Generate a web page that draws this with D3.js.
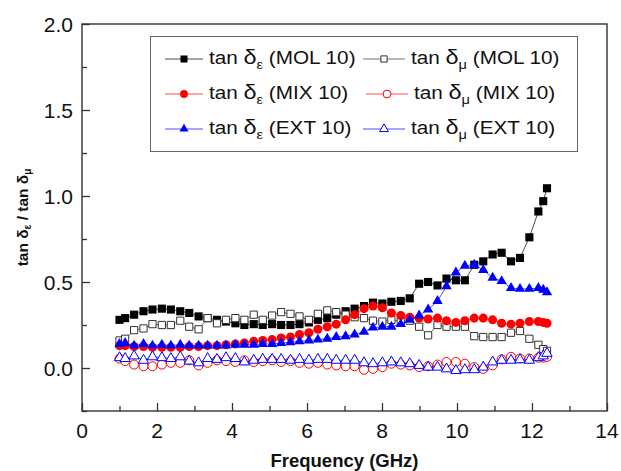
<!DOCTYPE html>
<html>
<head>
<meta charset="utf-8">
<script src="https://cdn.jsdelivr.net/npm/d3@7"></script>
<style>
  body { margin: 0; background: #fff; }
  svg text { font-family: "Liberation Sans", Arial, sans-serif; }
</style>
</head>
<body>
<div id="chart"></div>
<script>

var svgWidth = 621;
var svgHeight = 471;

var margin = { top: 24, right: 14, bottom: 60, left: 82 };

var width = svgWidth - margin.left - margin.right;
var height = svgHeight - margin.top - margin.bottom;

// frequency points (GHz), shared by all six series
var freq = [1.00, 1.15, 1.39, 1.64, 1.88, 2.13, 2.37, 2.62, 2.86, 3.11, 3.35, 3.60, 3.84, 4.09, 4.33,
  4.58, 4.82, 5.07, 5.31, 5.56, 5.80, 6.05, 6.29, 6.54, 6.78, 7.03, 7.27, 7.52, 7.76, 8.01, 8.25, 8.50,
  8.74, 8.99, 9.23, 9.48, 9.72, 9.97, 10.21, 10.46, 10.70, 10.95, 11.19, 11.44, 11.68, 11.93, 12.17,
  12.30, 12.40];

var molEps = [0.28, 0.29, 0.31, 0.33, 0.34, 0.345, 0.34, 0.33, 0.32, 0.30, 0.29, 0.28, 0.27, 0.26, 0.25,
  0.255, 0.25, 0.255, 0.25, 0.25, 0.255, 0.265, 0.28, 0.29, 0.31, 0.33, 0.345, 0.36, 0.38, 0.375, 0.385, 0.39,
  0.405, 0.49, 0.50, 0.48, 0.52, 0.51, 0.51, 0.60, 0.62, 0.66, 0.67, 0.62, 0.64, 0.76, 0.91,
  0.97, 1.045];

var molMu = [0.16, 0.17, 0.22, 0.23, 0.255, 0.25, 0.25, 0.275, 0.24, 0.225, 0.29, 0.26, 0.28, 0.29, 0.28,
  0.31, 0.28, 0.305, 0.325, 0.315, 0.30, 0.28, 0.315, 0.335, 0.325, 0.31, 0.295, 0.29, 0.275, 0.27, 0.28, 0.27,
  0.275, 0.24, 0.19, 0.25, 0.24, 0.24, 0.24, 0.185, 0.18, 0.18, 0.18, 0.205, 0.215, 0.17, 0.135,
  0.11, 0.10];

var mixEps = [0.13, 0.13, 0.125, 0.125, 0.12, 0.12, 0.12, 0.12, 0.125, 0.125, 0.13, 0.13, 0.135, 0.14, 0.145,
  0.155, 0.16, 0.165, 0.175, 0.18, 0.195, 0.205, 0.225, 0.24, 0.255, 0.28, 0.31, 0.345, 0.36, 0.35, 0.32, 0.305,
  0.295, 0.29, 0.285, 0.29, 0.275, 0.265, 0.275, 0.29, 0.29, 0.28, 0.26, 0.255, 0.26, 0.27, 0.27,
  0.265, 0.26];

var mixMu = [0.055, 0.04, 0.02, 0.01, 0.01, 0.02, 0.03, 0.03, 0.045, 0.015, 0.03, 0.045, 0.04, 0.035, 0.045,
  0.035, 0.04, 0.045, 0.035, 0.04, 0.03, 0.025, 0.03, 0.02, 0.015, 0.01, 0.01, -0.01, -0.005, 0.005, 0.025, 0.02,
  0.015, 0.005, 0.01, 0.02, 0.035, 0.035, 0.025, 0.005, -0.005, 0.015, 0.05, 0.065, 0.055, 0.055, 0.06,
  0.06, 0.065];

var extEps = [0.14, 0.145, 0.13, 0.14, 0.13, 0.135, 0.13, 0.135, 0.13, 0.13, 0.13, 0.13, 0.13, 0.135, 0.135,
  0.135, 0.14, 0.14, 0.145, 0.15, 0.155, 0.16, 0.165, 0.17, 0.18, 0.185, 0.195, 0.21, 0.235, 0.24, 0.24, 0.255,
  0.28, 0.305, 0.34, 0.39, 0.475, 0.555, 0.595, 0.60, 0.57, 0.525, 0.505, 0.465, 0.46, 0.46, 0.465,
  0.455, 0.44];

var extMu = [0.06, 0.055, 0.07, 0.045, 0.065, 0.06, 0.055, 0.065, 0.04, 0.03, 0.055, 0.05, 0.06, 0.055, 0.035,
  0.045, 0.05, 0.05, 0.05, 0.045, 0.05, 0.045, 0.05, 0.05, 0.045, 0.045, 0.045, 0.03, 0.025, 0.03, 0.035, 0.03,
  0.025, 0.015, 0.005, 0.005, -0.005, -0.015, -0.01, -0.01, 0.005, 0.035, 0.045, 0.045, 0.048, 0.045, 0.06,
  0.07, 0.085];

var xTicks = [0, 2, 4, 6, 8, 10, 12, 14];
var yTicks = [0.0, 0.5, 1.0, 1.5, 2.0];

// series: name parts, values, style
var series = [
  { sub: "\u03b5", label: "(MOL 10)", values: molEps, shape: d3.symbolSquare, color: "#000", filled: true },
  { sub: "\u03bc", label: "(MOL 10)", values: molMu, shape: d3.symbolSquare, color: "#333", filled: false },
  { sub: "\u03b5", label: "(MIX 10)", values: mixEps, shape: d3.symbolCircle, color: "#ff0000", filled: true },
  { sub: "\u03bc", label: "(MIX 10)", values: mixMu, shape: d3.symbolCircle, color: "#ff0000", filled: false },
  { sub: "\u03b5", label: "(EXT 10)", values: extEps, shape: d3.symbolTriangle, color: "#0000ff", filled: true },
  { sub: "\u03bc", label: "(EXT 10)", values: extMu, shape: d3.symbolTriangle, color: "#0000ff", filled: false }
];

var svg = d3.select("#chart")
  .append("svg")
  .attr("width", svgWidth)
  .attr("height", svgHeight);

var chartGroup = svg.append("g")
  .attr("transform", `translate(${margin.left}, ${margin.top})`);

var xLinearScale = d3.scaleLinear().domain([0, 14]).range([0, width]);
var yLinearScale = d3.scaleLinear().domain([-0.25, 2.0]).range([height, 0]);

// inward ticks, minor ones between
var bottomAxis = d3.axisBottom(xLinearScale)
  .tickValues(d3.range(0, 14.01, 1))
  .tickSizeInner(0).tickSizeOuter(0).tickFormat("");
var xAxis = chartGroup.append("g")
  .attr("transform", `translate(0, ${height})`)
  .call(bottomAxis);
xAxis.selectAll(".tick line")
  .attr("y2", d => (d % 2 === 0 ? -8 : -5))
  .attr("stroke", "#333")
  .attr("stroke-width", 1.3);
xAxis.selectAll(".domain").remove();

var leftAxis = d3.axisLeft(yLinearScale)
  .tickValues(d3.range(-0.25, 2.01, 0.25))
  .tickSizeInner(0).tickSizeOuter(0).tickFormat("");
var yAxis = chartGroup.append("g").call(leftAxis);
yAxis.selectAll(".tick line")
  .attr("x2", d => (Math.abs(d * 2 - Math.round(d * 2)) < 1e-6 ? 8 : 5))
  .attr("stroke", "#333")
  .attr("stroke-width", 1.3);
yAxis.selectAll(".domain").remove();

// tick labels
chartGroup.selectAll(".xlab")
  .data(xTicks)
  .enter()
  .append("text")
  .attr("x", d => xLinearScale(d))
  .attr("y", height + 27)
  .attr("text-anchor", "middle")
  .attr("font-size", 21)
  .attr("fill", "#111")
  .text(d => d);

chartGroup.selectAll(".ylab")
  .data(yTicks)
  .enter()
  .append("text")
  .attr("x", -9)
  .attr("y", d => yLinearScale(d) + 7.5)
  .attr("text-anchor", "end")
  .attr("font-size", 21)
  .attr("fill", "#111")
  .text(d => d.toFixed(1));

// frame
chartGroup.append("rect")
  .attr("width", width)
  .attr("height", height)
  .attr("fill", "none")
  .attr("stroke", "#333")
  .attr("stroke-width", 1.4);

// axis titles
chartGroup.append("text")
  .attr("x", width / 2)
  .attr("y", height + 56)
  .attr("text-anchor", "middle")
  .attr("font-size", 18.5)
  .attr("font-weight", "bold")
  .attr("fill", "#111")
  .text("Frequency (GHz)");

var yTitle = svg.append("text")
  .attr("transform", `translate(28, ${margin.top + height / 2}) rotate(-90)`)
  .attr("text-anchor", "middle")
  .attr("font-size", 15.5)
  .attr("font-weight", "bold")
  .attr("fill", "#111");
yTitle.append("tspan").text("tan \u03b4");
yTitle.append("tspan").attr("font-size", 10).attr("dy", 3).text("\u03b5");
yTitle.append("tspan").attr("dy", -3).text(" / tan \u03b4");
yTitle.append("tspan").attr("font-size", 10).attr("dy", 3).text("\u03bc");

// data: line + symbols
var line = d3.line()
  .x((d, i) => xLinearScale(freq[i]))
  .y(d => yLinearScale(d));

function symbolSize(s) {
  if (s.shape === d3.symbolSquare) return s.filled ? 66 : 52;
  if (s.shape === d3.symbolCircle) return 64;
  return 46;
}

series.forEach(function(s) {
  var g = chartGroup.append("g");
  g.append("path")
    .attr("d", line(s.values))
    .attr("fill", "none")
    .attr("stroke", s.color)
    .attr("stroke-width", 0.7);
  g.selectAll("path.pt")
    .data(s.values)
    .enter()
    .append("path")
    .attr("class", "pt")
    .attr("transform", (d, i) => `translate(${xLinearScale(freq[i])}, ${yLinearScale(d)})`)
    .attr("d", d3.symbol().type(s.shape).size(symbolSize(s)))
    .attr("fill", s.filled ? s.color : "#fff")
    .attr("stroke", s.filled ? "none" : s.color)
    .attr("stroke-width", 1);
});

// legend
var legend = svg.append("g");
legend.append("rect")
  .attr("x", 150.5).attr("y", 36.5)
  .attr("width", 427).attr("height", 115)
  .attr("fill", "#fff")
  .attr("stroke", "#666")
  .attr("stroke-width", 1);

var rowY = [59, 94, 129];
var colX = [[165, 203, 209], [363, 405, 411]];

series.forEach(function(s, i) {
  var row = Math.floor(i / 2);
  var col = i % 2;
  var cx = colX[col];
  var shift = (row === 1 && col === 1) ? 3 : 0;
  var y = rowY[row];
  legend.append("line")
    .attr("x1", cx[0] + shift).attr("x2", cx[1] + shift)
    .attr("y1", y).attr("y2", y)
    .attr("stroke", s.color)
    .attr("stroke-opacity", 0.7)
    .attr("stroke-width", 1);
  legend.append("path")
    .attr("transform", `translate(${(cx[0] + cx[1]) / 2 + shift}, ${y})`)
    .attr("d", d3.symbol().type(s.shape).size(symbolSize(s) * 0.75))
    .attr("fill", s.filled ? s.color : "#fff")
    .attr("stroke", s.filled ? "none" : s.color)
    .attr("stroke-width", 1);
  // text is a bit wider in the original, stretch it horizontally
  var t = legend.append("text")
    .attr("transform", `translate(${cx[2] + shift}, ${y + 5}) scale(1.12, 1)`)
    .attr("font-size", 18.5)
    .attr("fill", "#111");
  t.append("tspan").text("tan ");
  t.append("tspan").attr("font-size", 21).text("\u03b4");
  t.append("tspan").attr("font-size", 13).attr("dy", 5).text(s.sub);
  t.append("tspan").attr("dy", -5).text(" " + s.label);
});

</script>
</body>
</html>
